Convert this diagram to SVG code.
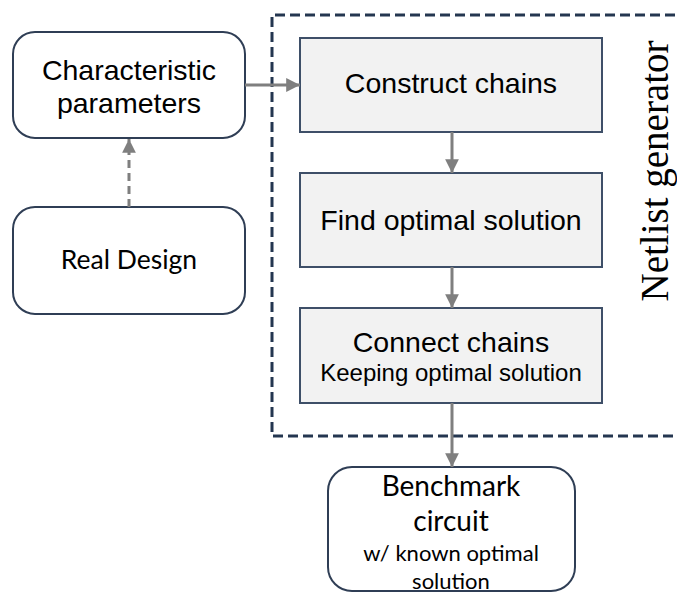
<svg xmlns="http://www.w3.org/2000/svg" width="677" height="595" viewBox="0 0 677 595">
  <defs>
    <marker id="arrow" viewBox="0 0 10 10" refX="10" refY="5" markerWidth="4.8" markerHeight="4.6" orient="auto" markerUnits="strokeWidth">
      <path d="M0,0 L10,5 L0,10 Z" fill="#7f7f7f"/>
    </marker>
    <style>
      .round { fill: #ffffff; stroke: #2f3e55; stroke-width: 2; }
      .step { fill: #f2f2f2; stroke: #3e4f68; stroke-width: 2; }
      .frame { fill: none; stroke: #243650; stroke-width: 3; stroke-dasharray: 10 5; }
      .link { fill: none; stroke: #7f7f7f; stroke-width: 3; marker-end: url(#arrow); }
      .dashed { stroke-dasharray: 8 5; }
      .arial { font-family: "Liberation Sans", Arial, sans-serif; fill: #000; text-anchor: middle; }
      .humanist { font-family: Lato, "Open Sans", sans-serif; fill: #000; text-anchor: middle; }
      .serif { font-family: "Liberation Serif", "Times New Roman", serif; fill: #000; text-anchor: middle; }
    </style>
  </defs>

  <!-- netlist generator frame (runs off the right edge) -->
  <g id="netlist-generator">
    <path class="frame" d="M690,15 L272,15 L272,436 L690,436"/>
    <text class="serif" font-size="39" transform="translate(668,171) rotate(-90)">Netlist generator</text>
  </g>

  <g id="characteristic-parameters">
    <rect class="round" x="13" y="32" width="232" height="106" rx="22"/>
    <text class="arial" font-size="28.5" x="129" y="80">Characteristic</text>
    <text class="arial" font-size="28.5" x="129" y="113">parameters</text>
  </g>

  <g id="real-design">
    <rect class="round" x="13" y="207" width="232" height="107" rx="22"/>
    <text class="humanist" font-size="26.5" x="129" y="269">Real Design</text>
  </g>

  <g id="construct-chains">
    <rect class="step" x="300" y="38" width="302" height="94"/>
    <text class="arial" font-size="28.5" x="451" y="93">Construct chains</text>
  </g>

  <g id="find-optimal-solution">
    <rect class="step" x="300" y="173" width="302" height="94"/>
    <text class="arial" font-size="28.5" x="451" y="230">Find optimal solution</text>
  </g>

  <g id="connect-chains">
    <rect class="step" x="300" y="308" width="302" height="95"/>
    <text class="arial" font-size="28.5" x="451" y="352">Connect chains</text>
    <text class="arial" font-size="24" x="451" y="381">Keeping optimal solution</text>
  </g>

  <g id="benchmark-circuit">
    <rect class="round" x="328" y="467" width="247" height="124" rx="24"/>
    <text class="humanist" font-size="28" x="451" y="496">Benchmark</text>
    <text class="humanist" font-size="28" x="451" y="531">circuit</text>
    <text class="humanist" font-size="22" x="451" y="561">w/ known optimal</text>
    <text class="humanist" font-size="22" x="451" y="589">solution</text>
  </g>

  <g id="connectors">
    <line class="link" x1="245" y1="85" x2="300" y2="85"/>
    <line class="link dashed" x1="129" y1="207" x2="129" y2="139"/>
    <line class="link" x1="452" y1="132" x2="452" y2="173"/>
    <line class="link" x1="452" y1="267" x2="452" y2="308"/>
    <line class="link" x1="452" y1="403" x2="452" y2="467"/>
  </g>
</svg>
